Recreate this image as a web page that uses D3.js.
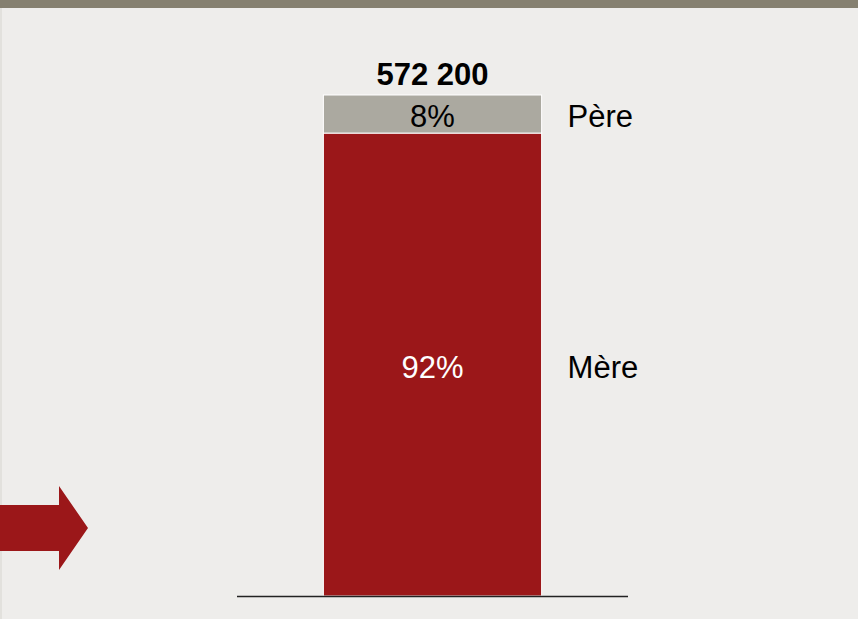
<!DOCTYPE html>
<html>
<head>
<meta charset="utf-8">
<script src="https://cdn.jsdelivr.net/npm/d3@7"></script>
<style>
  html, body { margin: 0; padding: 0; background: #eeedeb; }
  svg { display: block; font-family: "Liberation Sans", Arial, sans-serif; }
</style>
</head>
<body>
<svg id="chart" width="858" height="619"></svg>
<script>
// data
var categories = ["Total"];
var totals = [572200];
var parents = ["Mère", "Père"];          // stacked bottom -> top
var shares = [0.924, 0.076];
var colors = ["#9b1719", "#aba9a0"];
var labelColors = ["#ffffff", "#000000"];

var svg = d3.select("#chart");
var W = 858, H = 619;

// background + top band
svg.append("rect").attr("width", W).attr("height", H).attr("fill", "#eeedeb");
svg.append("rect").attr("x", 0).attr("y", 0).attr("width", W).attr("height", 8).attr("fill", "#858070");
svg.append("rect").attr("x", 0).attr("y", 8).attr("width", 2).attr("height", H - 8).attr("fill", "#e2e1dd");

var margin = {top: 95, bottom: 23, left: 237, right: 230};
var x = d3.scaleBand()
  .domain(categories)
  .range([margin.left, W - margin.right])
  .paddingInner(0.28)
  .paddingOuter(0.285)
  .align(0.5);
var y = d3.scaleLinear()
  .domain([0, 1])
  .range([H - margin.bottom, margin.top]);

// stack the shares
var stackData = [{}];
parents.forEach(function(p, i) { stackData[0][p] = shares[i]; });
var series = d3.stack().keys(parents)(stackData);

var g = svg.append("g");
series.forEach(function(s, i) {
  var d = s[0];
  g.append("rect")
    .attr("x", x(categories[0]))
    .attr("width", x.bandwidth())
    .attr("y", y(d[1]))
    .attr("height", y(d[0]) - y(d[1]))
    .attr("fill", colors[i])
    .attr("stroke", "#ffffff")
    .attr("stroke-width", 1);

  var cy = (y(d[0]) + y(d[1])) / 2;
  // share label inside the segment
  g.append("text")
    .attr("x", x(categories[0]) + x.bandwidth() / 2)
    .attr("y", cy)
    .attr("dy", "0.43em")
    .attr("text-anchor", "middle")
    .attr("font-size", 31)
    .attr("fill", labelColors[i])
    .text(d3.format(".0%")(shares[i]));

  // parent name on the right
  g.append("text")
    .attr("x", x(categories[0]) + x.bandwidth() + 26)
    .attr("y", cy)
    .attr("dy", "0.43em")
    .attr("font-size", 31)
    .attr("fill", "#000000")
    .text(parents[i]);
});

// total on top
g.append("text")
  .attr("x", x(categories[0]) + x.bandwidth() / 2)
  .attr("y", y(1) - 10)
  .attr("text-anchor", "middle")
  .attr("font-size", 31)
  .attr("font-weight", "bold")
  .attr("fill", "#000000")
  .text(d3.format(",")(totals[0]).replace(/,/g, " "));

// baseline
svg.append("line")
  .attr("x1", margin.left).attr("x2", W - margin.right)
  .attr("y1", y(0) + 0.5).attr("y2", y(0) + 0.5)
  .attr("stroke", "#222222")
  .attr("stroke-width", 1.5);

// red arrow at the left
var arrow = d3.path();
arrow.moveTo(0, 505);
arrow.lineTo(59, 505);
arrow.lineTo(59, 486);
arrow.lineTo(88, 528);
arrow.lineTo(59, 570);
arrow.lineTo(59, 551);
arrow.lineTo(0, 551);
arrow.closePath();
svg.append("path").attr("d", arrow.toString()).attr("fill", "#9b1719");
</script>
</body>
</html>
